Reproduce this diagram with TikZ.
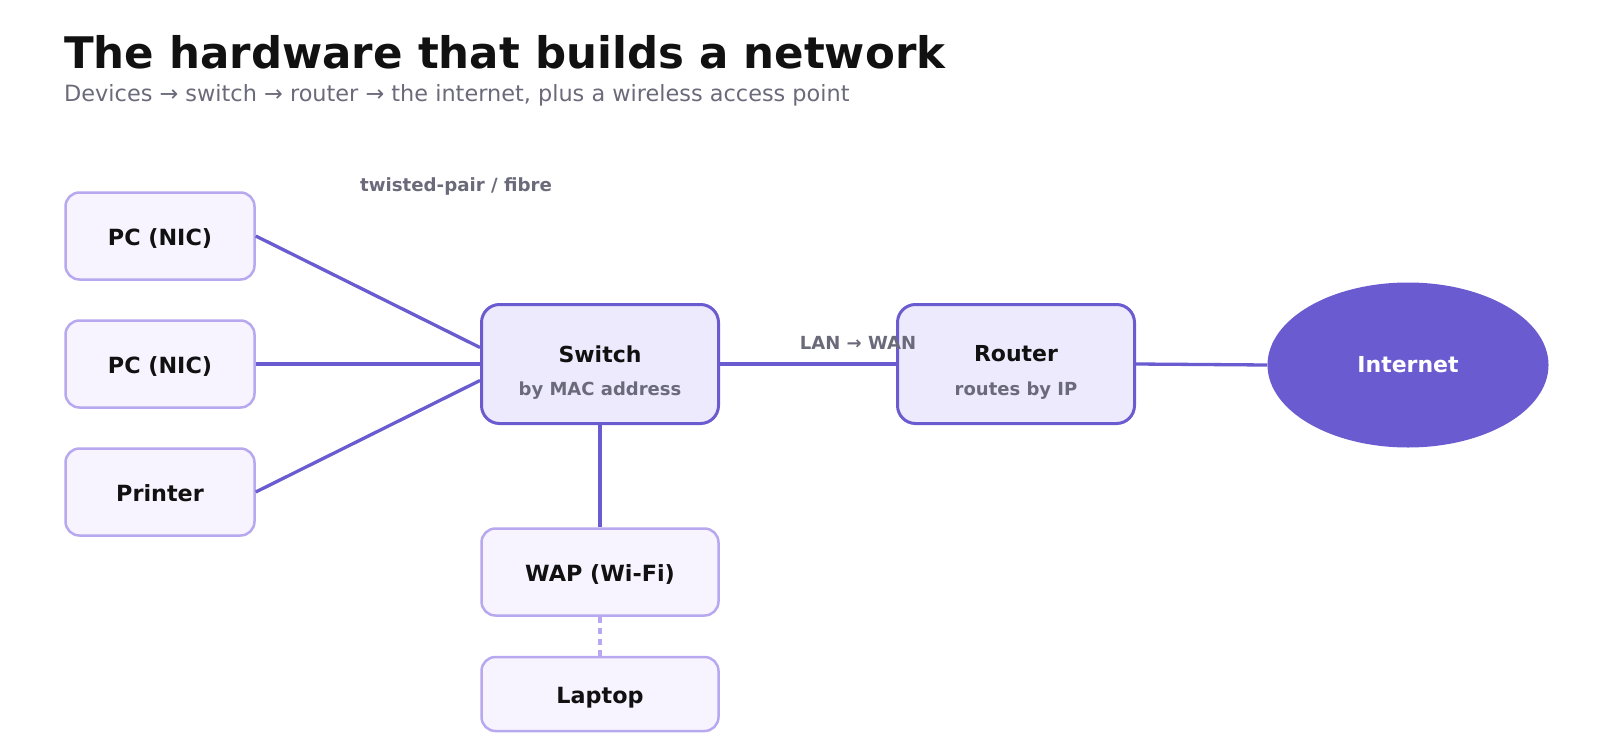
\documentclass[tikz,border=0pt]{standalone}
\usepackage{fontspec}
\setmainfont{DejaVu Sans}
\definecolor{netpurple}{RGB}{106, 92, 208}
\definecolor{netlight}{RGB}{184, 168, 240}
\definecolor{corefill}{RGB}{238, 234, 254}
\definecolor{devfill}{RGB}{247, 244, 255}
\definecolor{inkdark}{RGB}{17, 17, 17}
\definecolor{inkgray}{RGB}{107, 106, 122}
\usetikzlibrary{shapes.geometric, positioning, calc}

\begin{document}
\begin{tikzpicture}[x=1pt, y=-1pt,
    devbox/.style={draw=netlight, fill=devfill, line width=2.5pt, rounded corners=14pt,
        minimum width=189pt, minimum height=87pt, inner sep=0pt,
        text height=21pt, text depth=2pt,
        font=\fontsize{22.3}{24}\selectfont\bfseries, text=inkdark},
    corebox/.style={draw=netpurple, fill=corefill, line width=3pt, rounded corners=18pt,
        minimum width=237pt, minimum height=119pt, inner sep=0pt},
    cloudnode/.style={ellipse, fill=netpurple, minimum width=281pt, minimum height=165pt,
        inner sep=0pt, font=\fontsize{22}{24}\selectfont\bfseries, text=white},
    corename/.style={font=\fontsize{22}{24}\selectfont\bfseries, text=inkdark},
    corenote/.style={font=\fontsize{18}{20}\selectfont\bfseries, text=inkgray},
    wire/.style={draw=netpurple, line width=3.3pt},
    wifi/.style={draw=netlight, line width=3.3pt, dash pattern=on 6pt off 5pt}]
    \useasboundingbox (0,0) rectangle (1600,752);
    % Heading
    \node[anchor=base west, font=\fontsize{43.5}{48}\selectfont\bfseries, text=inkdark, inner sep=0pt]
        (title) at (64,68) {The hardware that builds a network};
    \node[anchor=base west, font=\fontsize{22.4}{24}\selectfont, text=inkgray, inner sep=0pt]
        (subtitle) at (64,101) {Devices → switch → router → the internet, plus a wireless access point};
    % End devices
    \node[devbox] (pcone) at (160,236) {PC (NIC)};
    \node[devbox] (pctwo) at (160,364) {PC (NIC)};
    \node[devbox] (printer) at (160,492) {Printer};
    % Switch and router
    \node[corebox] (switch) at (600,364) {};
    \node[corename] (switchname) at (600,354) {Switch};
    \node[corenote] (switchnote) at (600,391) {by MAC address};
    \node[corebox] (router) at (1016,364) {};
    \node[corename] (routername) at (1016,354) {Router};
    \node[corenote] (routernote) at (1016,391) {routes by IP};
    \node[cloudnode] (internet) at (1408,365) {Internet};
    % Wireless
    \node[devbox, minimum width=237pt] (wap) at (600,572) {WAP (Wi-Fi)};
    \node[devbox, minimum width=237pt, minimum height=74pt] (laptop) at (600,694) {Laptop};
    % Links
    \draw[wire] (pcone.east) -- ([yshift=16.5pt]switch.west);
    \draw[wire] (pctwo.east) -- (switch.west);
    \draw[wire] (printer.east) -- ([yshift=-16.5pt]switch.west);
    \draw[wire] (switch.east) -- (router.west);
    \draw[wire] (router.east) -- (internet.west);
    \draw[wire] (switch.south) -- (wap.north);
    \draw[wifi] (wap.south) -- (laptop.north);
    % Link labels
    \node[corenote, font=\fontsize{18.2}{20}\selectfont\bfseries] (cablelbl) at (456,186) {twisted-pair / fibre};
    \node[corenote] (wanlbl) at (858,343) {LAN → WAN};
\end{tikzpicture}
\end{document}
